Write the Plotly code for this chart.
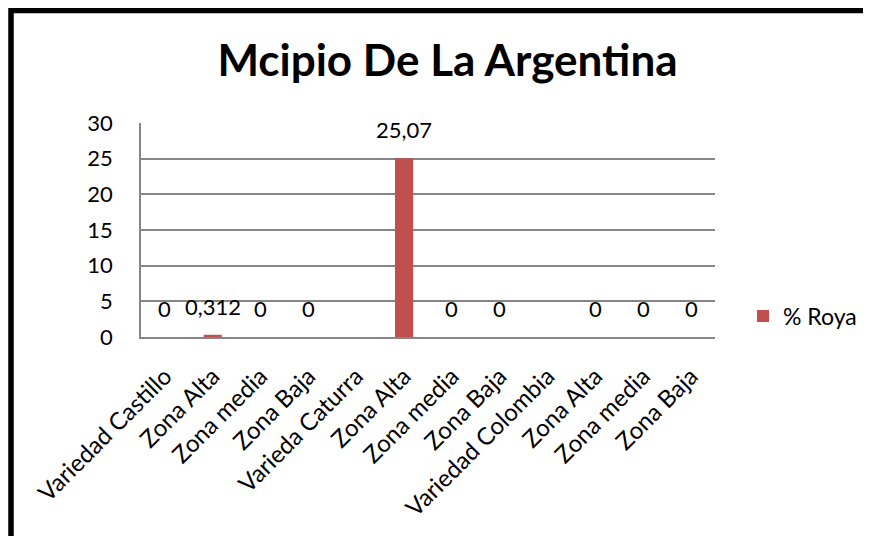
import plotly.graph_objects as go

categories = ["Variedad Castillo", "Zona Alta", "Zona media", "Zona Baja",
              "Varieda Caturra", "Zona Alta", "Zona media", "Zona Baja",
              "Variedad Colombia", "Zona Alta", "Zona media", "Zona Baja"]
roya = [0, 0.312, 0, 0, None, 25.07, 0, 0, None, 0, 0, 0]
labels = ["0", "0,312", "0", "0", "", "25,07", "0", "0", "", "0", "0", "0"]
y_ticks = [0, 5, 10, 15, 20, 25, 30]

FONT = "Lato"
OFF = 8  # page body margin
W, H = 871 - OFF, 536 - OFF
L, R, T, B = 141 - OFF, 715 - OFF, 123 - OFF, 337 - OFF

x_idx = list(range(len(categories)))


def px(xpage):
    return (xpage - OFF - L) / (R - L)


def py(ypage):
    return (B - (ypage - OFF)) / (B - T)


fig = go.Figure()
fig.add_trace(go.Bar(
    x=x_idx, y=roya, name="% Roya",
    marker=dict(color="#C0504D", line=dict(width=0)),
    width=0.38,
))

for xi, v, t in zip(x_idx, roya, labels):
    if v is None or t == "":
        continue
    fig.add_annotation(x=xi, y=v, text=t, showarrow=False, yanchor="bottom",
                       yshift=13, font=dict(family=FONT, size=22, color="#000"))

fig.add_shape(type="rect", xref="paper", yref="paper",
              x0=px(11), x1=px(900), y0=py(10.5), y1=py(600),
              line=dict(color="#000", width=5.5), fillcolor="rgba(0,0,0,0)")

fig.update_layout(
    width=W, height=H,
    margin=dict(l=L, r=W - R, t=T, b=H - B, autoexpand=False),
    paper_bgcolor="white", plot_bgcolor="white",
    title=dict(text="<b>Mcipio De La Argentina</b>",
               x=((217 + 678) / 2 - OFF) / W, xanchor="center",
               y=1 - (61 - OFF) / H, yanchor="middle",
               font=dict(family=FONT, size=44, color="#000")),
    font=dict(family=FONT, color="#000"),
    showlegend=True,
    legend=dict(x=px(743), xanchor="left", y=py(316), yanchor="middle",
                font=dict(family=FONT, size=23, color="#000"),
                bgcolor="rgba(0,0,0,0)"),
    xaxis=dict(range=[-0.5, len(categories) - 0.5], tickmode="array",
               tickvals=x_idx, ticktext=categories, tickangle=-45,
               tickfont=dict(family=FONT, size=24, color="#000"),
               showline=True, linecolor="#868686", linewidth=1.5,
               showgrid=False, ticks="", zeroline=False,
               ticklabelstandoff=14),
    yaxis=dict(range=[0, 30], tickmode="array", tickvals=y_ticks,
               tickfont=dict(family=FONT, size=22, color="#000"),
               showline=True, linecolor="#868686", linewidth=1.5,
               showgrid=True, gridcolor="#868686", gridwidth=1.5,
               zeroline=False, ticks="", ticklabelstandoff=22),
)

fig.write_html("out.html")
